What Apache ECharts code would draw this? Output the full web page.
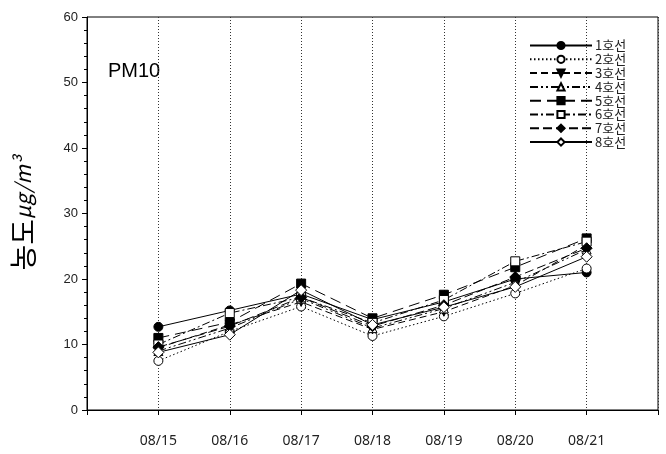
<!DOCTYPE html>
<html><head><meta charset="utf-8">
<script src="https://cdn.jsdelivr.net/npm/echarts@6/dist/echarts.min.js"></script>
<style>html,body{margin:0;padding:0;background:#fff}#c{width:666px;height:454px}</style>
</head><body><div id="c"></div>
<script>
const categories = ['08/15','08/16','08/17','08/18','08/19','08/20','08/21'];
const yTicks = [0,10,20,30,40,50,60];
const line1 = [12.7, 15.2, 17.7, 13.8, 16.5, 20.0, 21.0];
const line2 = [7.5, 12.0, 15.8, 11.3, 14.3, 17.8, 21.6];
const line3 = [9.5, 13.0, 16.5, 12.3, 15.0, 19.0, 25.2];
const line4 = [9.0, 12.5, 17.0, 12.5, 15.5, 19.5, 24.5];
const line5 = [11.0, 13.4, 19.3, 14.0, 17.6, 21.8, 26.2];
const line6 = [10.0, 14.8, 17.2, 13.3, 16.8, 22.7, 25.7];
const line7 = [9.6, 12.8, 17.2, 12.8, 16.0, 20.3, 24.7];
const line8 = [8.8, 11.5, 18.3, 13.0, 15.7, 18.8, 23.4];
const names = ['1호선','2호선','3호선','4호선','5호선','6호선','7호선','8호선'];

const styles = [
  {symbol:'circle', fill:'#000', dash:'solid', rot:0},
  {symbol:'circle', fill:'#fff', dash:[1.5,2.5], rot:0},
  {symbol:'triangle', fill:'#000', dash:[7,4], rot:180},
  {symbol:'triangle', fill:'#fff', dash:[8,3,2,3,2,3], rot:0},
  {symbol:'rect', fill:'#000', dash:[11,6], rot:0},
  {symbol:'rect', fill:'#fff', dash:[8,3,2,3], rot:0},
  {symbol:'diamond', fill:'#000', dash:[9,4], rot:0},
  {symbol:'diamond', fill:'#fff', dash:'solid', rot:0}
];
const allData = [line1,line2,line3,line4,line5,line6,line7,line8];

const series = allData.map((arr,i)=>({
  name: names[i],
  type: 'line',
  data: arr.map((v,j)=>[j+1, v]),
  symbol: styles[i].symbol,
  symbolRotate: styles[i].rot,
  symbolSize: styles[i].symbol==='diamond' ? 11 : 9,
  lineStyle: {color:'#000', width:1, type: styles[i].dash},
  itemStyle: {color: styles[i].fill, borderColor:'#000', borderWidth:1},
  emphasis: {disabled:true},
  z: 10 + i
}));

const chart = echarts.init(document.getElementById('c'), null, {renderer:'canvas'});
chart.setOption({
  animation: false,
  backgroundColor: '#fff',
  grid: {left: 87, right: 8, top: 17, bottom: 44, show: true, borderColor: '#000', borderWidth: 1},
  xAxis: {
    type: 'value', min: 0, max: 8, interval: 1,
    axisLine: {lineStyle:{color:'#000', width:1}},
    axisTick: {show:true, length:5, lineStyle:{color:'#000'}},
    axisLabel: {
      margin: 24, fontSize: 14, color: '#222', fontFamily: 'Noto Sans',
      formatter: v => (v>=1 && v<=categories.length) ? categories[v-1] : ''
    },
    splitLine: {show:true, lineStyle:{color:'#333', type:[1,2], width:1}}
  },
  yAxis: {
    type: 'value', min: yTicks[0], max: yTicks[yTicks.length-1], interval: 10,
    axisLine: {show:true, lineStyle:{color:'#000', width:1}},
    axisTick: {show:true, length:5, lineStyle:{color:'#000'}},
    minorTick: {show:true, splitNumber:5, length:3, lineStyle:{color:'#000'}},
    axisLabel: {margin: 9, fontSize: 13, color:'#222', fontFamily:'Liberation Sans'},
    splitLine: {show:false},
    name: '{a|농도}{b|μg/m³}',
    nameLocation: 'middle',
    nameGap: 50,
    nameRotate: 90,
    nameTextStyle: {
      rich: {
        a: {fontSize: 28, fontFamily: 'Noto Sans CJK KR', color:'#000'},
        b: {fontSize: 21, fontStyle:'italic', fontFamily: 'Noto Sans CJK KR', color:'#000'}
      }
    }
  },
  legend: {
    orient: 'vertical', left: 524, top: 34,
    itemWidth: 62, itemHeight: 9, itemGap: 0.8,
    textStyle: {fontSize: 13, lineHeight: 13, color:'#222', fontFamily:'Noto Sans CJK KR', padding:[0,0,0,-2]},
    data: names
  },
  graphic: [{
    type:'text', left: 108, top: 61,
    style: {text:'PM10', fontSize: 20, fill:'#000', fontFamily:'Liberation Sans'}
  }],
  series: series
});
</script></body></html>
